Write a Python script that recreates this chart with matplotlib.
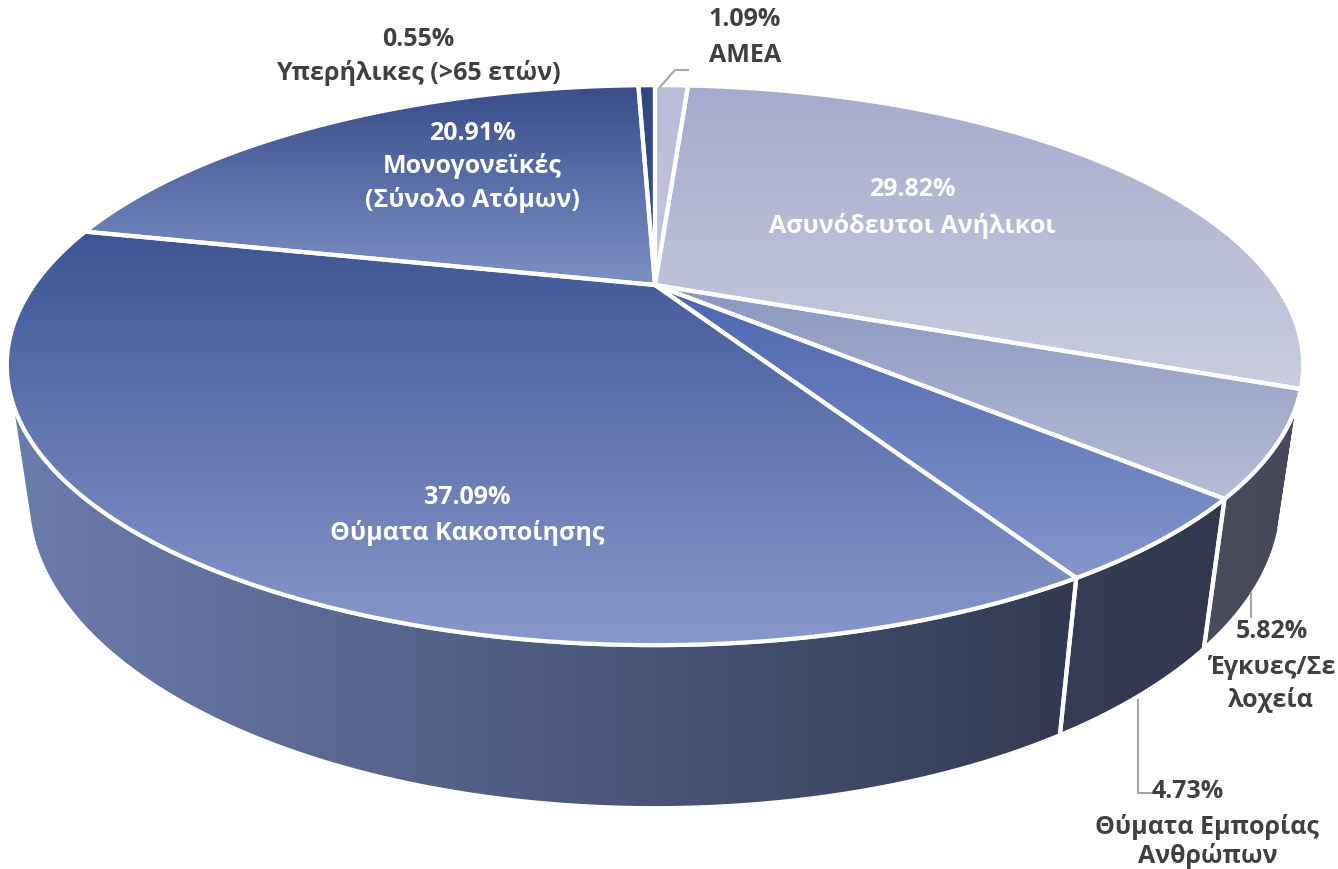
import numpy as np
import matplotlib
matplotlib.use("Agg")
import matplotlib.pyplot as plt
from matplotlib.patches import Polygon
from matplotlib.colors import to_rgb

# ---------------- data ----------------
categories = ["AMEA", "Ασυνόδευτοι Ανήλικοι", "Έγκυες/Σε λοχεία",
              "Θύματα Εμπορίας Ανθρώπων", "Θύματα Κακοποίησης",
              "Μονογονεϊκές (Σύνολο Ατόμων)", "Υπερήλικες (>65 ετών)"]
values = [1.09, 29.82, 5.82, 4.73, 37.09, 20.91, 0.55]
label_lines = [["AMEA"], ["Ασυνόδευτοι Ανήλικοι"], ["Έγκυες/Σε", "λοχεία"],
               ["Θύματα Εμπορίας", "Ανθρώπων"], ["Θύματα Κακοποίησης"],
               ["Μονογονεϊκές", "(Σύνολο Ατόμων)"], ["Υπερήλικες (>65 ετών)"]]

# ---------------- styles ----------------
top_colors = [("#b8bcd6", "#c4c7dc"), ("#a5abcd", "#cacddf"), ("#8c97c0", "#b6bdd8"),
              ("#4d66ae", "#8496cb"), ("#3e5595", "#8898cb"), ("#394d8b", "#7d91c6"),
              ("#33467e", "#3b5190")]
side_colors = [("#6c7088", "#6c7088"), ("#5a5e72", "#5a5e72"), ("#4b4d5c", "#45475a"),
               ("#363c53", "#323850"), ("#6c7cae", "#323a52"), ("#4a5a90", "#4a5a90"),
               ("#2c3a66", "#2c3a66")]
text_white = [False, True, False, False, True, True, False]
label_pos = [[(745, 20), (745, 55)],
             [(912, 190), (912, 226)],
             [(1272, 632), (1272, 667), (1271, 700)],
             [(1188, 792), (1207, 827), (1208, 856)],
             [(467, 498), (467, 533)],
             [(472, 133), (472, 166), (472, 200)],
             [(418, 40), (418, 73)]]
leaders = [[(660, 87), (675, 70), (688, 70)],
           None, [(1251, 593), (1251, 617)], [(1138, 700), (1138, 793), (1153, 793)],
           None, None, None]

W, H = 1338, 869
CX, CY = 655, 285
PHI = np.arcsin(257 / 621)
LCAM = 3.18
FOC = 1975
THICK = 0.234


def proj(theta, z):
    x = np.sin(theta)
    y = np.cos(theta)
    depth = LCAM + y * np.cos(PHI) - z * np.sin(PHI)
    up = y * np.sin(PHI) + z * np.cos(PHI)
    return CX + FOC * x / depth, CY - FOC * up / depth


fig = plt.figure(figsize=(W / 100, H / 100), dpi=100)
ax = fig.add_axes([0, 0, 1, 1])
ax.set_xlim(0, W)
ax.set_ylim(H, 0)
ax.axis("off")


def grad_fill(verts, c0, c1, vertical=True, z=1):
    verts = np.asarray(verts)
    x0, y0 = verts.min(axis=0)
    x1, y1 = verts.max(axis=0)
    n = 256
    t = np.linspace(0, 1, n)[:, None]
    a, b = np.array(to_rgb(c0)), np.array(to_rgb(c1))
    cols = a * (1 - t) + b * t
    img = cols[:, None, :] if vertical else cols[None, :, :]
    poly = Polygon(verts, closed=True, facecolor="none", edgecolor="none")
    ax.add_patch(poly)
    im = ax.imshow(img, extent=(x0, x1, y1, y0), origin="upper", aspect="auto",
                   interpolation="bilinear", zorder=z)
    im.set_clip_path(poly)
    ax.add_patch(Polygon(verts, closed=True, facecolor="none", edgecolor="white",
                         lw=3, joinstyle="round", zorder=z + 0.5))


vals = np.array(values)
cum = np.concatenate([[0], np.cumsum(vals)]) / vals.sum() * 2 * np.pi
vis_a = np.arccos(-1 / (LCAM * np.cos(PHI)))
vis_b = 2 * np.pi - vis_a

# sides
for i in range(len(values)):
    t0, t1 = max(cum[i], vis_a), min(cum[i + 1], vis_b)
    if t1 <= t0:
        continue
    th = np.linspace(t0, t1, 200)
    tx, ty = proj(th, 0.0)
    bx, by = proj(th[::-1], -THICK)
    verts = np.column_stack([np.concatenate([tx, bx]), np.concatenate([ty, by])])
    grad_fill(verts, side_colors[i][0], side_colors[i][1], vertical=False, z=1)

# tops
for i in range(len(values)):
    th = np.linspace(cum[i], cum[i + 1], 300)
    tx, ty = proj(th, 0.0)
    verts = np.column_stack([np.concatenate([[CX], tx]), np.concatenate([[CY], ty])])
    grad_fill(verts, top_colors[i][0], top_colors[i][1], vertical=True, z=3)

ax.set_xlim(0, W)
ax.set_ylim(H, 0)

# labels
FONT = ["Open Sans", "DejaVu Sans"]
for i, v in enumerate(values):
    col = "white" if text_white[i] else "#404040"
    lines = [f"{v:.2f}%"] + label_lines[i]
    for line, (x, y) in zip(lines, label_pos[i]):
        ax.text(x, y, line, ha="center", va="center", fontsize=18, fontweight="bold",
                color=col, family=FONT, zorder=10)
    if leaders[i] is not None:
        pts = np.array(leaders[i])
        ax.plot(pts[:, 0], pts[:, 1], color="#a6a6a6", lw=1.5, zorder=9)

fig.savefig("out.png", dpi=100, facecolor="white")
